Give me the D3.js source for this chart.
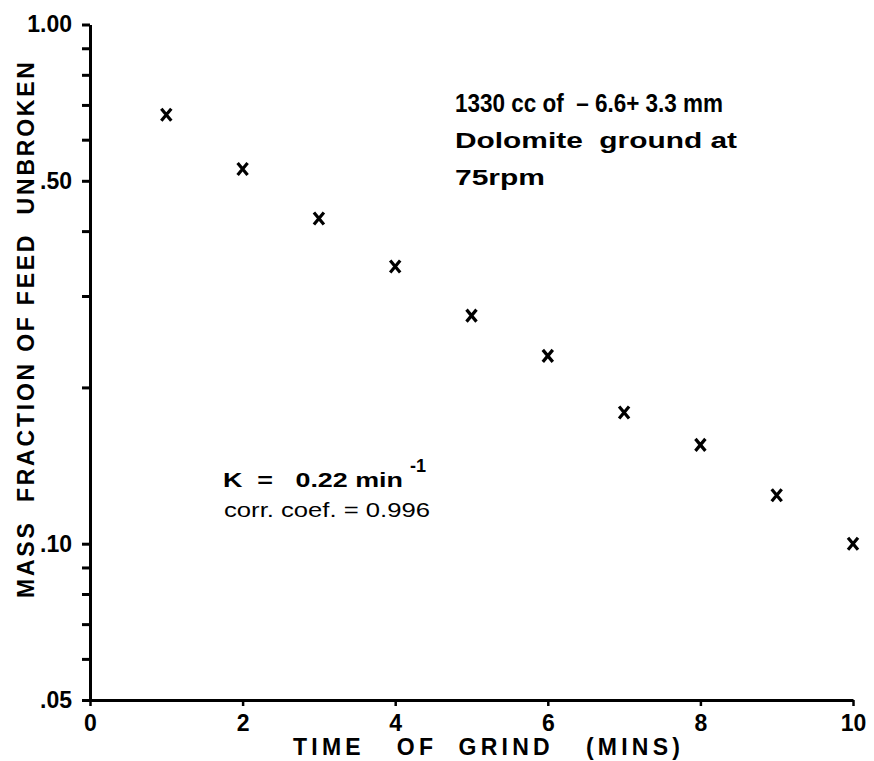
<!DOCTYPE html>
<html>
<head>
<meta charset="utf-8">
<script src="https://cdn.jsdelivr.net/npm/d3@7"></script>
<style>
  body { margin: 0; background: #fff; }
  svg text { font-family: "Liberation Sans", Arial, sans-serif; font-weight: bold; fill: #000; }
  .axis path, .axis line { stroke: #000; }
</style>
</head>
<body>
<svg id="chart" width="874" height="761"></svg>
<script>
// grinding time (min) and mass fraction of feed left unbroken
var times = [1, 2, 3, 4, 5, 6, 7, 8, 9, 10];
var fraction = [0.67, 0.527, 0.423, 0.342, 0.275, 0.23, 0.179, 0.155, 0.124, 0.10];

var xTicks = [0, 2, 4, 6, 8, 10];
var yTicks = [0.05, 0.06, 0.07, 0.08, 0.09, 0.1, 0.2, 0.3, 0.4, 0.5, 0.6, 0.7, 0.8, 0.9, 1.0];
var yLabels = {"0.05": ".05", "0.1": ".10", "0.5": ".50", "1": "1.00"};

var svg = d3.select("#chart");

var x = d3.scaleLinear().domain([0, 10]).range([90, 853]);
var y = d3.scaleLog().domain([0.05, 1]).range([700, 24.5]);

// x axis
var xAxis = d3.axisBottom(x)
    .tickValues(xTicks)
    .tickSize(6)
    .tickPadding(9)
    .tickSizeOuter(0)
    .tickFormat(d3.format("d"));

var gx = svg.append("g")
    .attr("class", "axis")
    .attr("transform", "translate(0," + y(0.05) + ")")
    .call(xAxis);
gx.select(".domain").attr("stroke-width", 3);
gx.selectAll(".tick line").attr("stroke-width", 2.5);
gx.selectAll(".tick text").attr("font-size", 23);

// y axis (log)
var yAxis = d3.axisLeft(y)
    .tickValues(yTicks)
    .tickSize(8)
    .tickPadding(10)
    .tickSizeOuter(0)
    .tickFormat(function(d) { return yLabels[String(+d.toFixed(2))] || ""; });

var gy = svg.append("g")
    .attr("class", "axis")
    .attr("transform", "translate(" + x(0) + ",0)")
    .call(yAxis);
gy.select(".domain").attr("stroke-width", 3);
gy.selectAll(".tick line").attr("stroke-width", 3);
gy.selectAll(".tick text").attr("font-size", 23);

// axis titles
svg.append("text")
    .attr("x", 293)
    .attr("y", 755)
    .attr("textLength", 387)
    .attr("lengthAdjust", "spacing")
    .attr("font-size", 23)
    .attr("xml:space", "preserve")
    .text("TIME   OF  GRIND   (MINS)");

svg.append("text")
    .attr("transform", "translate(34,598) rotate(-90)")
    .attr("textLength", 536)
    .attr("lengthAdjust", "spacing")
    .attr("font-size", 23)
    .attr("xml:space", "preserve")
    .text("MASS  FRACTION OF FEED  UNBROKEN");

// data points as x marks
svg.append("g").selectAll("path")
    .data(times)
  .enter().append("path")
    .attr("d", function(d, i) {
      var cx = x(d), cy = y(fraction[i]);
      return "M" + (cx - 5) + "," + (cy - 6) + "L" + (cx + 5) + "," + (cy + 6) +
             "M" + (cx + 5) + "," + (cy - 6) + "L" + (cx - 5) + "," + (cy + 6);
    })
    .attr("stroke", "#000")
    .attr("stroke-width", 3.2)
    .attr("fill", "none");

// annotations
var note = [
  {t: "1330 cc of  \u2013 6.6+ 3.3 mm", y: 112, len: 268, fs: 25},
  {t: "Dolomite  ground at", y: 148, len: 282, fs: 22},
  {t: "75rpm", y: 185, len: 90, fs: 22}
];
svg.append("g").selectAll("text")
    .data(note)
  .enter().append("text")
    .attr("x", 455)
    .attr("y", function(d) { return d.y; })
    .attr("textLength", function(d) { return d.len; })
    .attr("lengthAdjust", "spacingAndGlyphs")
    .attr("xml:space", "preserve")
    .attr("font-size", function(d) { return d.fs; })
    .text(function(d) { return d.t; });

svg.append("text")
    .attr("x", 223).attr("y", 487)
    .attr("textLength", 180)
    .attr("lengthAdjust", "spacingAndGlyphs")
    .attr("xml:space", "preserve")
    .attr("font-size", 21)
    .text("K  =   0.22 min");
svg.append("text")
    .attr("x", 410).attr("y", 472)
    .attr("font-size", 18)
    .text("-1");
svg.append("text")
    .attr("x", 224).attr("y", 517)
    .attr("textLength", 206)
    .attr("lengthAdjust", "spacingAndGlyphs")
    .attr("font-size", 21)
    .style("font-weight", "normal")
    .text("corr. coef. = 0.996");
</script>
</body>
</html>
